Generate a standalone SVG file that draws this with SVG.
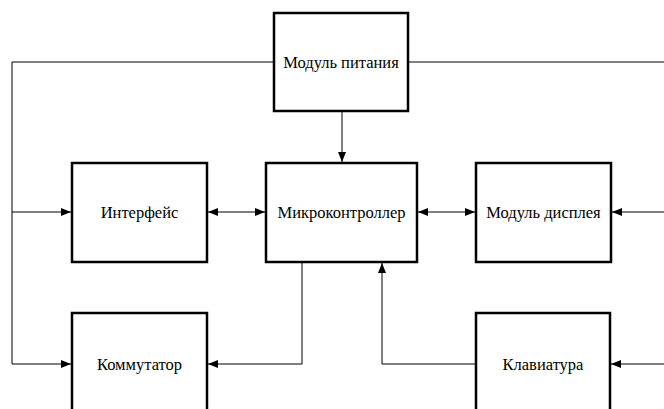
<svg xmlns="http://www.w3.org/2000/svg" width="664" height="409" viewBox="0 0 664 409">
<style>
.box{fill:#fff;stroke:#000;stroke-width:2.5}
.lbl{font-family:"Liberation Serif","Times New Roman",serif;font-size:16.5px;fill:#000;text-anchor:middle;dominant-baseline:central}
.ln{fill:none;stroke:#000;stroke-width:1}
</style>
<defs>
<marker id="ah" viewBox="0 0 10 8" refX="10" refY="4" markerWidth="10" markerHeight="8" markerUnits="userSpaceOnUse" orient="auto-start-reverse">
<path d="M0,0 L10,4 L0,8 Z" fill="#000"/>
</marker>
</defs>
<rect width="664" height="409" fill="#fff"/>
<g id="connectors">
<path class="ln" d="M274,62 H12 V364 H71" marker-end="url(#ah)"/>
<path class="ln" d="M12,212 H71" marker-end="url(#ah)"/>
<path class="ln" d="M408,62 H664"/>
<path class="ln" d="M342,111 V162" marker-end="url(#ah)"/>
<path class="ln" d="M208,212 H265" marker-start="url(#ah)" marker-end="url(#ah)"/>
<path class="ln" d="M418,212 H475" marker-start="url(#ah)" marker-end="url(#ah)"/>
<path class="ln" d="M664,212 H612" marker-end="url(#ah)"/>
<path class="ln" d="M302,263 V364 H208" marker-end="url(#ah)"/>
<path class="ln" d="M476,364 H382 V263" marker-end="url(#ah)"/>
<path class="ln" d="M664,364 H611" marker-end="url(#ah)"/>
</g>
<g id="power"><rect class="box" x="274" y="13" width="134" height="98"/><text class="lbl" x="341" y="62">Модуль питания</text></g>
<g id="interface"><rect class="box" x="72" y="163" width="135" height="99"/><text class="lbl" x="139.5" y="212">Интерфейс</text></g>
<g id="mcu"><rect class="box" x="266" y="163" width="151" height="99"/><text class="lbl" x="341.5" y="212">Микроконтроллер</text></g>
<g id="display"><rect class="box" x="476" y="163" width="135" height="99"/><text class="lbl" x="543.5" y="212">Модуль дисплея</text></g>
<g id="switch"><rect class="box" x="72" y="313" width="135" height="110"/><text class="lbl" x="139.5" y="364">Коммутатор</text></g>
<g id="keyboard"><rect class="box" x="476" y="313" width="134" height="110"/><text class="lbl" x="543" y="364">Клавиатура</text></g>
</svg>
